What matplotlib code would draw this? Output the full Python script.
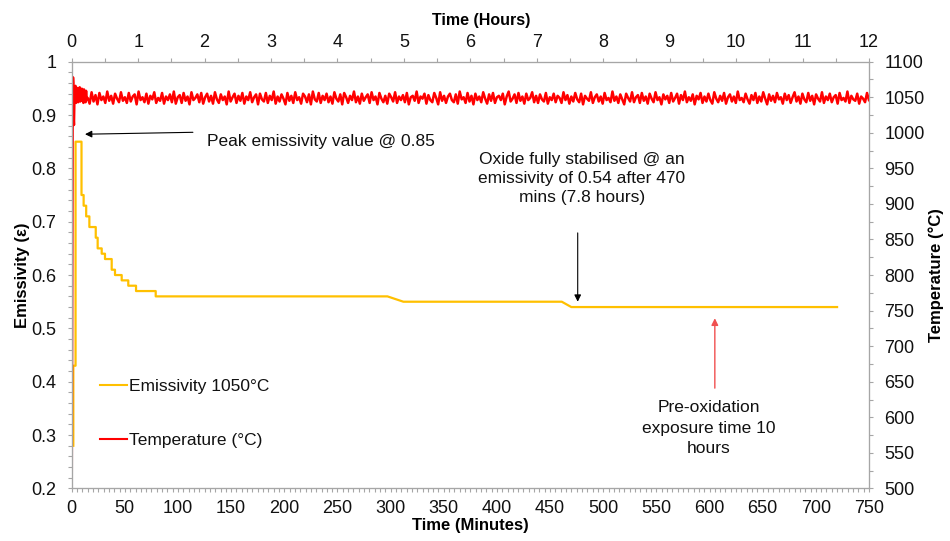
import numpy as np
import matplotlib
matplotlib.use("Agg")
import matplotlib.pyplot as plt
from matplotlib.ticker import MultipleLocator, FuncFormatter

plt.rcParams['font.family'] = ['Liberation Sans', 'DejaVu Sans']

# emissivity trace (minutes, emissivity)
em_min = [1.5, 1.5, 3.6, 3.6, 9.2, 9.2, 11.2, 11.2, 13.6, 13.6, 16.6, 16.6,
          22.6, 22.6, 24.4, 24.4, 28.2, 28.2, 31.3, 31.3, 37.6, 37.6, 40.7,
          40.7, 47.0, 47.0, 53.2, 53.2, 60.5, 60.5, 79.0, 79.0, 297, 312,
          461, 470, 720]
em_val = [0.28, 0.43, 0.43, 0.85, 0.85, 0.75, 0.75, 0.73, 0.73, 0.71, 0.71, 0.69,
          0.69, 0.67, 0.67, 0.65, 0.65, 0.64, 0.64, 0.63, 0.63, 0.61, 0.61,
          0.60, 0.60, 0.59, 0.59, 0.58, 0.58, 0.57, 0.57, 0.56, 0.56, 0.55,
          0.55, 0.54, 0.54]

# temperature start-up (minutes, degC)
temp_start_min = [0, 0.3, 0.6, 0.9, 1.2, 1.5, 1.8, 2.1, 2.4, 2.7, 3.0, 3.5, 4.0,
                  4.5, 5.0, 5.5, 6.0, 6.5, 7.0, 7.5, 8.0, 8.5, 9.0, 9.5, 10.0,
                  10.5, 11.0, 11.5, 12.0, 12.5, 13.0, 13.5, 14.0]
temp_start_val = [505, 700, 900, 1050, 1078, 1070, 1020, 1011, 1040, 1062, 1048,
                  1066, 1042, 1060, 1045, 1063, 1043, 1061, 1046, 1064, 1044,
                  1060, 1045, 1062, 1047, 1058, 1042, 1061, 1046, 1057, 1043,
                  1059, 1047]

# temperature after start-up, sampled about every 1.8 minutes up to 750
temp_noise = [
    1049, 1041, 1057, 1044, 1053, 1040, 1056, 1046, 1051, 1042, 1058, 1045, 1052, 1041, 1055, 1048, 1043, 1057, 1045, 1050,
    1042, 1056, 1044, 1051, 1054, 1040, 1058, 1046, 1050, 1043, 1055, 1041, 1052, 1047, 1057, 1042, 1049, 1045, 1056, 1041,
    1051, 1046, 1054, 1043, 1058, 1041, 1050, 1053, 1042, 1056, 1045, 1051, 1040, 1057, 1046, 1049, 1054, 1043, 1056, 1041,
    1050, 1055, 1044, 1052, 1041, 1057, 1047, 1042, 1054, 1046, 1051, 1040, 1058, 1044, 1050, 1055, 1042, 1052, 1045, 1056,
    1041, 1051, 1046, 1057, 1043, 1050, 1054, 1040, 1055, 1047, 1044, 1056, 1042, 1052, 1046, 1058, 1041, 1051, 1044, 1054,
    1048, 1040, 1056, 1045, 1052, 1042, 1057, 1046, 1050, 1041, 1055, 1051, 1043, 1054, 1040, 1058, 1047, 1044, 1056, 1042,
    1052, 1046, 1055, 1043, 1051, 1041, 1057, 1048, 1044, 1054, 1040, 1056, 1050, 1042, 1052, 1046, 1058, 1043, 1051, 1041,
    1055, 1045, 1050, 1054, 1042, 1057, 1046, 1051, 1040, 1056, 1048, 1043, 1052, 1041, 1055, 1050, 1044, 1057, 1042, 1051,
    1046, 1053, 1043, 1056, 1040, 1050, 1052, 1045, 1058, 1042, 1051, 1048, 1055, 1041, 1053, 1046, 1043, 1056, 1049, 1040,
    1057, 1045, 1052, 1042, 1051, 1055, 1046, 1043, 1054, 1041, 1058, 1047, 1050, 1042, 1056, 1044, 1052, 1040, 1055, 1046,
    1051, 1043, 1057, 1048, 1041, 1054, 1045, 1056, 1042, 1050, 1052, 1046, 1055, 1040, 1051, 1058, 1044, 1048, 1054, 1042,
    1056, 1045, 1051, 1041, 1055, 1046, 1049, 1057, 1043, 1052, 1042, 1054, 1047, 1044, 1056, 1041, 1050, 1046, 1055, 1043,
    1052, 1049, 1042, 1057, 1046, 1053, 1041, 1051, 1044, 1056, 1047, 1043, 1055, 1040, 1052, 1048, 1045, 1057, 1042, 1050,
    1054, 1044, 1051, 1041, 1056, 1046, 1049, 1043, 1058, 1045, 1051, 1042, 1054, 1047, 1040, 1055, 1049, 1044, 1057, 1043,
    1050, 1053, 1042, 1056, 1045, 1051, 1041, 1055, 1048, 1043, 1057, 1046, 1050, 1040, 1054, 1047, 1052, 1042, 1056, 1044,
    1049, 1055, 1041, 1053, 1046, 1058, 1043, 1050, 1045, 1054, 1040, 1052, 1047, 1056, 1042, 1051, 1044, 1055, 1046, 1041,
    1057, 1048, 1043, 1052, 1045, 1056, 1041, 1050, 1054, 1044, 1051, 1042, 1058, 1046, 1049, 1043, 1055, 1047, 1041, 1053,
    1046, 1056, 1042, 1051, 1044, 1057, 1048, 1040, 1054, 1045, 1052, 1043, 1056, 1047, 1050, 1041, 1055, 1046, 1053, 1042,
    1050, 1057, 1044, 1051, 1041, 1055, 1047, 1043, 1056, 1045, 1052, 1040, 1054, 1048, 1044, 1057, 1042, 1051, 1046, 1055,
    1043, 1050, 1053, 1041, 1056, 1046, 1049, 1044, 1058, 1042, 1052, 1047, 1045, 1055, 1041, 1051, 1048, 1043, 1056, 1046,
]
temp_noise_min = np.linspace(15, 750, len(temp_noise))

temp_min = list(temp_start_min) + list(temp_noise_min)
temp_val = temp_start_val + temp_noise

YELLOW = '#FFC000'
RED = '#FF0000'
GREY = '#A6A6A6'
TXT = '#111111'

fig = plt.figure(figsize=(9.5, 5.41), dpi=100)
ax = fig.add_axes([0.0755, 0.0972, 0.8392, 0.7888])
ax2 = ax.twinx()
ax3 = ax.twiny()

l1, = ax.plot(em_min, em_val, color=YELLOW, lw=1.6, label='Emissivity 1050°C', zorder=3)
l2, = ax2.plot(temp_min, temp_val, color=RED, lw=1.8, label='Temperature (°C)')

ax.set_xlim(0, 750)
ax.set_ylim(0.2, 1.0)
ax2.set_ylim(500, 1100)
ax3.set_xlim(0, 12)

ax.xaxis.set_major_locator(MultipleLocator(50))
ax.xaxis.set_minor_locator(MultipleLocator(5))
ax.yaxis.set_major_locator(MultipleLocator(0.1))
ax.yaxis.set_minor_locator(MultipleLocator(0.02))
ax.yaxis.set_major_formatter(FuncFormatter(lambda v, p: '%g' % round(v, 2)))
ax2.yaxis.set_major_locator(MultipleLocator(50))
ax2.yaxis.set_minor_locator(MultipleLocator(25))
ax3.xaxis.set_major_locator(MultipleLocator(1))
ax3.xaxis.set_minor_locator(MultipleLocator(0.5))

for a in (ax, ax2, ax3):
    for s in a.spines.values():
        s.set_color(GREY)
    a.tick_params(which='both', length=3, width=0.8, color=GREY,
                  labelsize=13, labelcolor=TXT)
ax.tick_params(axis='x', which='major', pad=5)
ax.tick_params(axis='y', which='major', pad=8)
ax2.tick_params(axis='y', which='major', pad=8)
ax3.tick_params(axis='x', which='major', pad=5)

ax.set_xlabel('Time (Minutes)', fontsize=12, fontweight='bold')
ax.xaxis.set_label_coords(0.5, -0.07)
ax.set_ylabel('Emissivity (ε)', fontsize=12, fontweight='bold')
ax.yaxis.set_label_coords(-0.052, 0.5)
ax2.set_ylabel('Temperature (°C)', fontsize=12, fontweight='bold')
ax2.yaxis.set_label_coords(1.074, 0.5)
ax3.set_xlabel('Time (Hours)', fontsize=11.5, fontweight='bold')
ax3.xaxis.set_label_coords(0.513, 1.085)

# annotations
ax.annotate('', xy=(12.5, 0.864), xytext=(114, 0.8676),
            arrowprops=dict(arrowstyle='-|>', color='black', lw=0.8,
                            mutation_scale=10, shrinkA=0, shrinkB=0))
ax.text(127, 0.85, 'Peak emissivity value @ 0.85', fontsize=12.5,
        ha='left', va='center', color=TXT)

ax.annotate('', xy=(476, 0.550), xytext=(476, 0.679),
            arrowprops=dict(arrowstyle='-|>', color='black', lw=0.8,
                            mutation_scale=10, shrinkA=0, shrinkB=0))
ax.text(480, 0.781, 'Oxide fully stabilised @ an\nemissivity of 0.54 after 470\nmins (7.8 hours)',
        fontsize=12.5, ha='center', va='center', linespacing=1.3, color=TXT)

ax.annotate('', xy=(605, 0.519), xytext=(605, 0.388),
            arrowprops=dict(arrowstyle='-|>', color='#F05050', lw=1.0,
                            mutation_scale=10, shrinkA=0, shrinkB=0))
ax.text(599, 0.313, 'Pre-oxidation\nexposure time 10\nhours',
        fontsize=12.5, ha='center', va='center', linespacing=1.45, color=TXT)

leg = ax2.legend(handles=[l1, l2], loc='upper left', bbox_to_anchor=(0.0355, 0.257),
                 frameon=False, fontsize=12.5, handlelength=1.55, handletextpad=0.1,
                 labelspacing=2.25, borderpad=0, borderaxespad=0)
for t in leg.get_texts():
    t.set_color(TXT)
for h in leg.get_lines():
    h.set_linewidth(1.5)

fig.savefig('out.png', dpi=100)
